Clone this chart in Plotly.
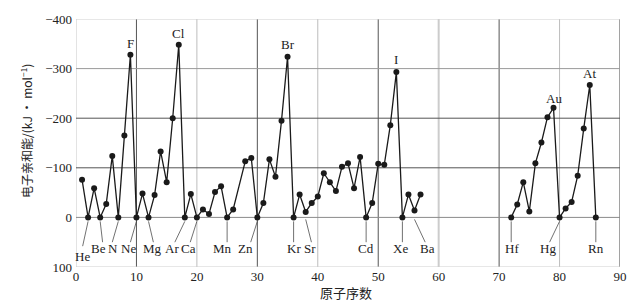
import plotly.graph_objects as go

# ---- data ----
atomic_number = [1, 2, 3, 4, 5, 6, 7, 8, 9, 10, 11, 12, 13, 14, 15, 16, 17, 18, 19, 20,
                 21, 22, 23, 24, 25, 26, 28, 29, 30, 31, 32, 33, 34, 35, 36, 37, 38, 39, 40,
                 41, 42, 43, 44, 45, 46, 47, 48, 49, 50, 51, 52, 53, 54, 55, 56, 57,
                 None,
                 72, 73, 74, 75, 76, 77, 78, 79, 80, 81, 82, 83, 84, 85, 86]
electron_affinity = [-76, 0, -59, 0, -27, -124, 0, -165, -328, 0, -48, 0, -45, -133, -71, -200, -348, 0, -47, 0,
                     -16, -7, -51, -63, 0, -16, -113, -120, 0, -29, -117, -82, -195, -324, 0, -46, -11, -29, -42,
                     -89, -71, -53, -102, -109, -59, -122, 0, -29, -108, -106, -186, -293, 0, -46, -14, -46,
                     None,
                     0, -26, -71, -12, -109, -151, -202, -221, 0, -18, -31, -84, -179, -267, 0]

# labelled peaks (above the points)
peak_names = ["F", "Cl", "Br", "I", "Au", "At"]
peak_z = [9, 17, 35, 53, 79, 85]

# labelled elements below the axis
low_names = ["He", "Be", "N", "Ne", "Mg", "Ar", "Ca", "Mn", "Zn", "Kr", "Sr", "Cd", "Xe", "Ba", "Hf", "Hg", "Rn"]
low_z = [2, 4, 7, 10, 12, 18, 20, 25, 30, 36, 38, 48, 54, 56, 72, 80, 86]

x_ticks = [0, 10, 20, 30, 40, 50, 60, 70, 80, 90]
y_ticks = [-400, -300, -200, -100, 0, 100]

# ---- layout helpers (styles / offsets only) ----
peak_shift = [11, 11, 12, 13, 9, 11]
low_text_dx = [-0.9, -0.3, -0.9, -1.3, 0.66, -2.2, -1.4, -0.8, -1.9, 0.0, 0.66, 0.0, -0.3, 2.2, 0.15, -1.9, 0.0]
low_line_dx = [-0.9, 0.4, -1.0, -1.0, 0.8, -1.65, -1.1, 0.0, -1.1, 0.0, 0.95, 0.0, 0.0, 1.77, 0.0, -1.65, 0.0]
low_text_y = [78] + [63] * 16
low_line_y1 = [58] + [50] * 16

serif = "Liberation Serif, 'Noto Sans CJK SC', serif"
cjk = "'Noto Sans CJK SC', 'Liberation Serif', sans-serif"

fig = go.Figure()
fig.add_trace(go.Scatter(
    x=atomic_number, y=electron_affinity, mode="lines+markers",
    line=dict(color="#1a1a1a", width=1.3),
    marker=dict(color="#1a1a1a", size=6),
    connectgaps=False, hoverinfo="skip", showlegend=False,
))

shapes = []
vgrid_colors = {0: "#c8c8c8", 10: "#555555", 20: "#bdbdbd", 30: "#555555", 40: "#bdbdbd",
                50: "#555555", 60: "#cccccc", 70: "#555555", 80: "#bdbdbd", 90: "#444444"}
vgrid_widths = {60: 2}
for xv in x_ticks:
    shapes.append(dict(type="line", xref="x", yref="y", x0=xv, x1=xv, y0=100, y1=-400,
                       line=dict(color=vgrid_colors[xv], width=vgrid_widths.get(xv, 1)), layer="below"))
hgrid_colors = {-400: "#cfcfcf", -300: "#9a9a9a", -200: "#555555", -100: "#555555", 0: "#8a8a8a", 100: "#cfcfcf"}
for yv in y_ticks:
    shapes.append(dict(type="line", xref="x", yref="y", x0=0, x1=90, y0=yv, y1=yv,
                       line=dict(color=hgrid_colors[yv], width=1), layer="below"))

# leader lines for low labels
val_of = {z: v for z, v in zip(atomic_number, electron_affinity) if z is not None}
for i, z in enumerate(low_z):
    y0 = 4 if val_of[z] != 0 else 8
    shapes.append(dict(type="line", xref="x", yref="y", x0=z, x1=z + low_line_dx[i],
                       y0=y0, y1=low_line_y1[i], line=dict(color="#333333", width=0.7)))

annotations = []
for i, name in enumerate(peak_names):
    annotations.append(dict(x=peak_z[i], y=val_of[peak_z[i]], xref="x", yref="y", text=name,
                            showarrow=False, yshift=peak_shift[i], yanchor="middle",
                            font=dict(family=serif, size=13, color="#222222")))
for i, name in enumerate(low_names):
    annotations.append(dict(x=low_z[i] + low_text_dx[i], y=low_text_y[i], xref="x", yref="y", text=name,
                            showarrow=False, yanchor="middle",
                            font=dict(family=serif, size=13, color="#222222")))

annotations.append(dict(x=-0.0907, y=0.547, xref="paper", yref="paper",
                        text="电子亲和能/(kJ • mol<sup>−1</sup>)", textangle=-90, showarrow=False,
                        xanchor="center", yanchor="middle",
                        font=dict(family=cjk, size=12, color="#222222")))
annotations.append(dict(x=0.497, y=-0.1035, xref="paper", yref="paper", text="原子序数",
                        showarrow=False, xanchor="center", yanchor="middle",
                        font=dict(family=cjk, size=13, color="#222222")))

fig.update_layout(
    width=641, height=303,
    margin=dict(l=76, r=21, t=13, b=36),
    paper_bgcolor="white", plot_bgcolor="white",
    shapes=shapes, annotations=annotations,
    xaxis=dict(range=[0, 90], tickvals=x_ticks, showgrid=False, zeroline=False, showline=False,
               ticks="", tickfont=dict(family=serif, size=13, color="#222222"), fixedrange=True),
    yaxis=dict(range=[100, -400], tickvals=y_ticks, showgrid=False, zeroline=False, showline=False,
               ticks="", ticklabelstandoff=3,
               tickfont=dict(family=serif, size=13, color="#222222"), fixedrange=True),
)

fig.write_html("out.html")
